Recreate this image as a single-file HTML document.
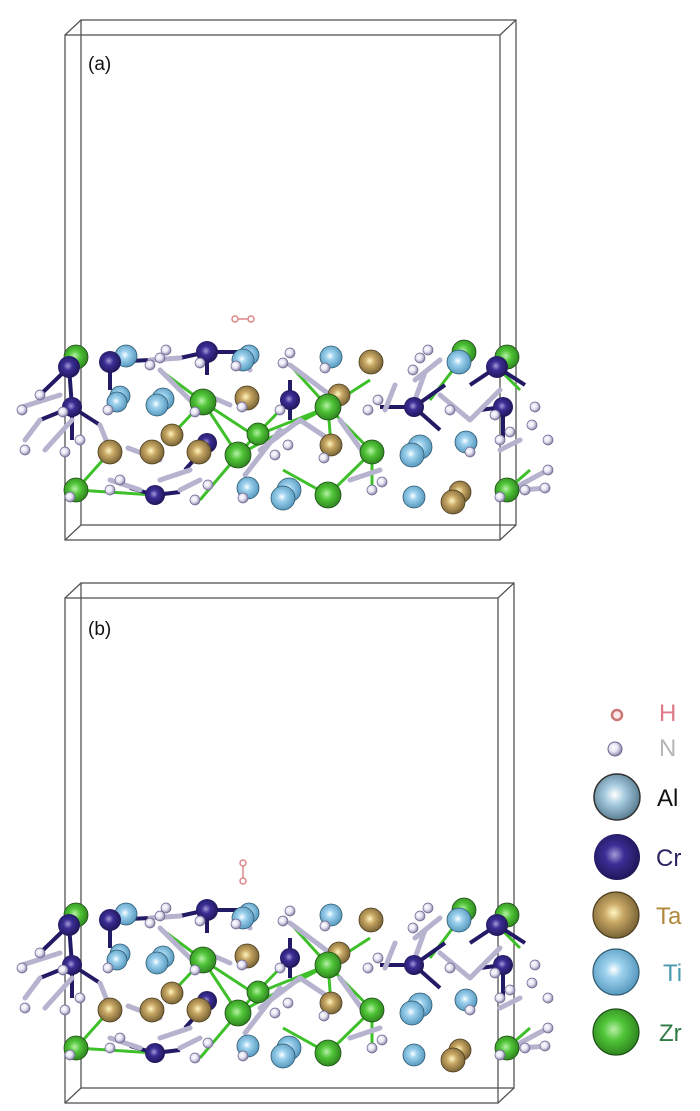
<!DOCTYPE html>
<html><head><meta charset="utf-8"><style>
html,body{margin:0;padding:0;background:#fff;}
svg{display:block;}
</style></head><body>
<svg width="700" height="1111" viewBox="0 0 700 1111" xmlns="http://www.w3.org/2000/svg">
<defs>
<radialGradient id="gAl" cx="45%" cy="45%" r="60%"><stop offset="0" stop-color="#ffffff"/><stop offset="0.35" stop-color="#a9cde0"/><stop offset="1" stop-color="#4f7388"/></radialGradient>
<radialGradient id="gTi" cx="45%" cy="45%" r="60%"><stop offset="0" stop-color="#ffffff"/><stop offset="0.3" stop-color="#9fd3ef"/><stop offset="1" stop-color="#4e92b8"/></radialGradient>
<radialGradient id="gCr" cx="45%" cy="45%" r="60%"><stop offset="0" stop-color="#a49ad6"/><stop offset="0.35" stop-color="#3a2e95"/><stop offset="1" stop-color="#1b1450"/></radialGradient>
<radialGradient id="gTa" cx="45%" cy="45%" r="60%"><stop offset="0" stop-color="#fff6c0"/><stop offset="0.35" stop-color="#c9a865"/><stop offset="1" stop-color="#6e5a30"/></radialGradient>
<radialGradient id="gZr" cx="45%" cy="45%" r="60%"><stop offset="0" stop-color="#b8f0a8"/><stop offset="0.4" stop-color="#4fc437"/><stop offset="1" stop-color="#2b7d1d"/></radialGradient>
<radialGradient id="gN" cx="40%" cy="40%" r="60%"><stop offset="0" stop-color="#ffffff"/><stop offset="0.5" stop-color="#e6e4f2"/><stop offset="1" stop-color="#8a86a8"/></radialGradient>
<g id="mol">
 <g stroke="#3fc02a" stroke-width="3" fill="none">
  <path d="M76,490 L110,452 M76,490 L155,495 M203,402 L238,455 L255,436 L203,402 M203,402 L169,438 M238,455 L328,407 M238,455 L200,500 M255,436 L328,407 M328,407 L372,452 L328,495 L283,470 M328,407 L331,445 M372,452 L372,495 M290,400 L255,436 M203,402 L160,370 M328,407 L290,365 M459,362 L430,400 M507,490 L530,470 M497,367 L520,390 M328,407 L370,380"/>
 </g>
 <g stroke="#231a66" stroke-width="4" fill="none">
  <path d="M69,367 L40,395 M69,367 L72,407 M72,407 L40,420 M72,407 L100,425 M72,407 L72,440 M110,362 L150,360 M110,362 L110,390 M207,352 L180,358 M207,352 L207,375 M207,352 L240,352 M290,400 L290,380 M290,400 L290,420 M414,407 L380,407 M414,407 L440,430 M414,407 L445,385 M503,407 L480,410 M503,407 L503,440 M497,367 L470,385 M497,367 L525,385 M155,495 L130,488 M155,495 L180,492 M207,445 L185,470"/>
 </g>
 <g stroke="#b6b3cf" stroke-width="5" fill="none" stroke-linecap="round">
  <path d="M22,407 L60,395 M40,420 L25,440 M45,450 L72,420 M100,425 L110,450 M150,360 L180,358 M160,370 L190,400 M200,392 L230,405 M240,352 L250,370 M290,365 L330,395 M300,420 L330,440 M245,475 L280,430 M260,450 L300,420 M340,420 L365,455 M385,410 L395,385 M425,372 L415,400 M440,395 L470,420 M470,420 L500,390 M500,450 L520,440 M110,480 L140,490 M180,490 L200,480 M350,480 L380,470 M520,485 L548,470 M520,490 L548,488 M440,360 L415,380 M128,448 L160,460 M160,480 L190,470"/>
 </g>
 <circle cx="76" cy="357" r="12" fill="url(#gZr)" stroke="#1d4e15" stroke-width="0.8"/>
 <circle cx="507" cy="357" r="12" fill="url(#gZr)" stroke="#1d4e15" stroke-width="0.8"/>
 <circle cx="464" cy="352" r="12" fill="url(#gZr)" stroke="#1d4e15" stroke-width="0.8"/>
 <circle cx="126" cy="356" r="11" fill="url(#gTi)" stroke="#2f5a72" stroke-width="0.8"/>
 <circle cx="249" cy="355" r="10" fill="url(#gTi)" stroke="#2f5a72" stroke-width="0.8"/>
 <circle cx="163" cy="399" r="11" fill="url(#gTi)" stroke="#2f5a72" stroke-width="0.8"/>
 <circle cx="120" cy="396" r="10" fill="url(#gTi)" stroke="#2f5a72" stroke-width="0.8"/>
 <circle cx="339" cy="395" r="11" fill="url(#gTa)" stroke="#4d3d1c" stroke-width="0.8"/>
 <circle cx="172" cy="435" r="11" fill="url(#gTa)" stroke="#4d3d1c" stroke-width="0.8"/>
 <circle cx="258" cy="434" r="11" fill="url(#gZr)" stroke="#1d4e15" stroke-width="0.8"/>
 <circle cx="420" cy="447" r="12" fill="url(#gTi)" stroke="#2f5a72" stroke-width="0.8"/>
 <circle cx="289" cy="490" r="12" fill="url(#gTi)" stroke="#2f5a72" stroke-width="0.8"/>
 <circle cx="460" cy="492" r="11" fill="url(#gTa)" stroke="#4d3d1c" stroke-width="0.8"/>
 <circle cx="466" cy="442" r="11" fill="url(#gTi)" stroke="#2f5a72" stroke-width="0.8"/>
 <circle cx="69" cy="367" r="11" fill="url(#gCr)"/>
 <circle cx="110" cy="362" r="11" fill="url(#gCr)"/>
 <circle cx="207" cy="352" r="11" fill="url(#gCr)"/>
 <circle cx="243" cy="360" r="11" fill="url(#gTi)" stroke="#2f5a72" stroke-width="0.8"/>
 <circle cx="331" cy="357" r="11" fill="url(#gTi)" stroke="#2f5a72" stroke-width="0.8"/>
 <circle cx="371" cy="362" r="12" fill="url(#gTa)" stroke="#4d3d1c" stroke-width="0.8"/>
 <circle cx="459" cy="362" r="12" fill="url(#gTi)" stroke="#2f5a72" stroke-width="0.8"/>
 <circle cx="497" cy="367" r="11" fill="url(#gCr)"/>
 <circle cx="72" cy="407" r="10" fill="url(#gCr)"/>
 <circle cx="117" cy="402" r="10" fill="url(#gTi)" stroke="#2f5a72" stroke-width="0.8"/>
 <circle cx="157" cy="405" r="11" fill="url(#gTi)" stroke="#2f5a72" stroke-width="0.8"/>
 <circle cx="203" cy="402" r="13" fill="url(#gZr)" stroke="#1d4e15" stroke-width="0.8"/>
 <circle cx="247" cy="398" r="12" fill="url(#gTa)" stroke="#4d3d1c" stroke-width="0.8"/>
 <circle cx="290" cy="400" r="10" fill="url(#gCr)"/>
 <circle cx="328" cy="407" r="13" fill="url(#gZr)" stroke="#1d4e15" stroke-width="0.8"/>
 <circle cx="414" cy="407" r="10" fill="url(#gCr)"/>
 <circle cx="503" cy="407" r="10" fill="url(#gCr)"/>
 <circle cx="110" cy="452" r="12" fill="url(#gTa)" stroke="#4d3d1c" stroke-width="0.8"/>
 <circle cx="207" cy="443" r="10" fill="url(#gCr)"/>
 <circle cx="152" cy="452" r="12" fill="url(#gTa)" stroke="#4d3d1c" stroke-width="0.8"/>
 <circle cx="199" cy="452" r="12" fill="url(#gTa)" stroke="#4d3d1c" stroke-width="0.8"/>
 <circle cx="238" cy="455" r="13" fill="url(#gZr)" stroke="#1d4e15" stroke-width="0.8"/>
 <circle cx="331" cy="445" r="11" fill="url(#gTa)" stroke="#4d3d1c" stroke-width="0.8"/>
 <circle cx="372" cy="452" r="12" fill="url(#gZr)" stroke="#1d4e15" stroke-width="0.8"/>
 <circle cx="412" cy="455" r="12" fill="url(#gTi)" stroke="#2f5a72" stroke-width="0.8"/>
 <circle cx="76" cy="490" r="12" fill="url(#gZr)" stroke="#1d4e15" stroke-width="0.8"/>
 <circle cx="155" cy="495" r="10" fill="url(#gCr)"/>
 <circle cx="248" cy="488" r="11" fill="url(#gTi)" stroke="#2f5a72" stroke-width="0.8"/>
 <circle cx="283" cy="498" r="12" fill="url(#gTi)" stroke="#2f5a72" stroke-width="0.8"/>
 <circle cx="328" cy="495" r="13" fill="url(#gZr)" stroke="#1d4e15" stroke-width="0.8"/>
 <circle cx="414" cy="497" r="11" fill="url(#gTi)" stroke="#2f5a72" stroke-width="0.8"/>
 <circle cx="453" cy="502" r="12" fill="url(#gTa)" stroke="#4d3d1c" stroke-width="0.8"/>
 <circle cx="507" cy="490" r="12" fill="url(#gZr)" stroke="#1d4e15" stroke-width="0.8"/>
 <g fill="url(#gN)" stroke="#6a6690" stroke-width="0.7">
  <circle cx="22" cy="410" r="5"/><circle cx="40" cy="395" r="5"/><circle cx="63" cy="412" r="5"/><circle cx="25" cy="450" r="5"/>
  <circle cx="65" cy="452" r="5"/><circle cx="80" cy="440" r="5"/><circle cx="70" cy="497" r="5"/>
  <circle cx="108" cy="410" r="5"/><circle cx="110" cy="490" r="5"/><circle cx="120" cy="480" r="5"/>
  <circle cx="150" cy="365" r="5"/><circle cx="160" cy="358" r="5"/><circle cx="166" cy="350" r="5"/>
  <circle cx="200" cy="363" r="5"/><circle cx="195" cy="412" r="5"/><circle cx="195" cy="500" r="5"/><circle cx="208" cy="485" r="5"/>
  <circle cx="236" cy="366" r="5"/><circle cx="242" cy="407" r="5"/><circle cx="243" cy="498" r="5"/>
  <circle cx="283" cy="363" r="5"/><circle cx="290" cy="353" r="5"/><circle cx="280" cy="410" r="5"/><circle cx="275" cy="455" r="5"/><circle cx="288" cy="445" r="5"/>
  <circle cx="325" cy="368" r="5"/><circle cx="324" cy="458" r="5"/>
  <circle cx="368" cy="410" r="5"/><circle cx="378" cy="400" r="5"/><circle cx="372" cy="490" r="5"/><circle cx="382" cy="482" r="5"/>
  <circle cx="413" cy="370" r="5"/><circle cx="420" cy="358" r="5"/><circle cx="428" cy="350" r="5"/>
  <circle cx="450" cy="410" r="5"/><circle cx="470" cy="452" r="5"/>
  <circle cx="495" cy="415" r="5"/><circle cx="500" cy="440" r="5"/><circle cx="510" cy="432" r="5"/>
  <circle cx="535" cy="407" r="5"/><circle cx="532" cy="425" r="5"/><circle cx="548" cy="440" r="5"/>
  <circle cx="548" cy="470" r="5"/><circle cx="545" cy="488" r="5"/><circle cx="500" cy="497" r="5"/><circle cx="525" cy="490" r="5"/>
 </g>
</g>
</defs>

<g fill="none" stroke="#555" stroke-width="1.3">
 <rect x="81" y="20" width="435" height="505"/>
 <rect x="65" y="35" width="435" height="505"/>
 <path d="M65,35 L81,20 M500,35 L516,20 M65,540 L81,525 M500,540 L516,525"/>
</g>
<text x="88" y="70" font-family="Liberation Sans, sans-serif" font-size="19" fill="#111">(a)</text>
<use href="#mol"/>
<g stroke="#d88" stroke-width="1.5" fill="#fff"><line x1="236" y1="319" x2="250" y2="319"/><circle cx="235" cy="319" r="3"/><circle cx="251" cy="319" r="3"/></g>

<g fill="none" stroke="#555" stroke-width="1.3">
 <rect x="81" y="583" width="433" height="505"/>
 <rect x="65" y="598" width="433" height="505"/>
 <path d="M65,598 L81,583 M498,598 L514,583 M65,1103 L81,1088 M498,1103 L514,1088"/>
</g>
<text x="88" y="635" font-family="Liberation Sans, sans-serif" font-size="19" fill="#111">(b)</text>
<use href="#mol" transform="translate(0,558)"/>
<g stroke="#d88" stroke-width="1.5" fill="#fff"><line x1="243" y1="864" x2="243" y2="880"/><circle cx="243" cy="863" r="3"/><circle cx="243" cy="881" r="3"/></g>

<g font-family="Liberation Sans, sans-serif" font-size="24">
 <circle cx="617" cy="715" r="5" fill="#fbeaea" stroke="#c77" stroke-width="2.5"/>
 <text x="659" y="721" fill="#e07a8a">H</text>
 <circle cx="615" cy="749" r="7" fill="url(#gN)" stroke="#6a6690" stroke-width="1"/>
 <text x="659" y="756" fill="#b5b5b5">N</text>
 <circle cx="617" cy="797" r="23" fill="url(#gAl)" stroke="#333" stroke-width="1.5"/>
 <text x="657" y="806" fill="#111">Al</text>
 <circle cx="617" cy="857" r="23" fill="url(#gCr)"/>
 <text x="656" y="866" fill="#2a2560">Cr</text>
 <circle cx="616" cy="915" r="23" fill="url(#gTa)" stroke="#4d3d1c" stroke-width="1.2"/>
 <text x="656" y="924" fill="#b08a3a">Ta</text>
 <circle cx="616" cy="972" r="23" fill="url(#gTi)" stroke="#2f5a72" stroke-width="1.2"/>
 <text x="663" y="981" fill="#4a9ab0">Ti</text>
 <circle cx="616" cy="1032" r="23" fill="url(#gZr)" stroke="#1d4e15" stroke-width="1.2"/>
 <text x="659" y="1041" fill="#2e7a45">Zr</text>
</g>
</svg>
</body></html>
